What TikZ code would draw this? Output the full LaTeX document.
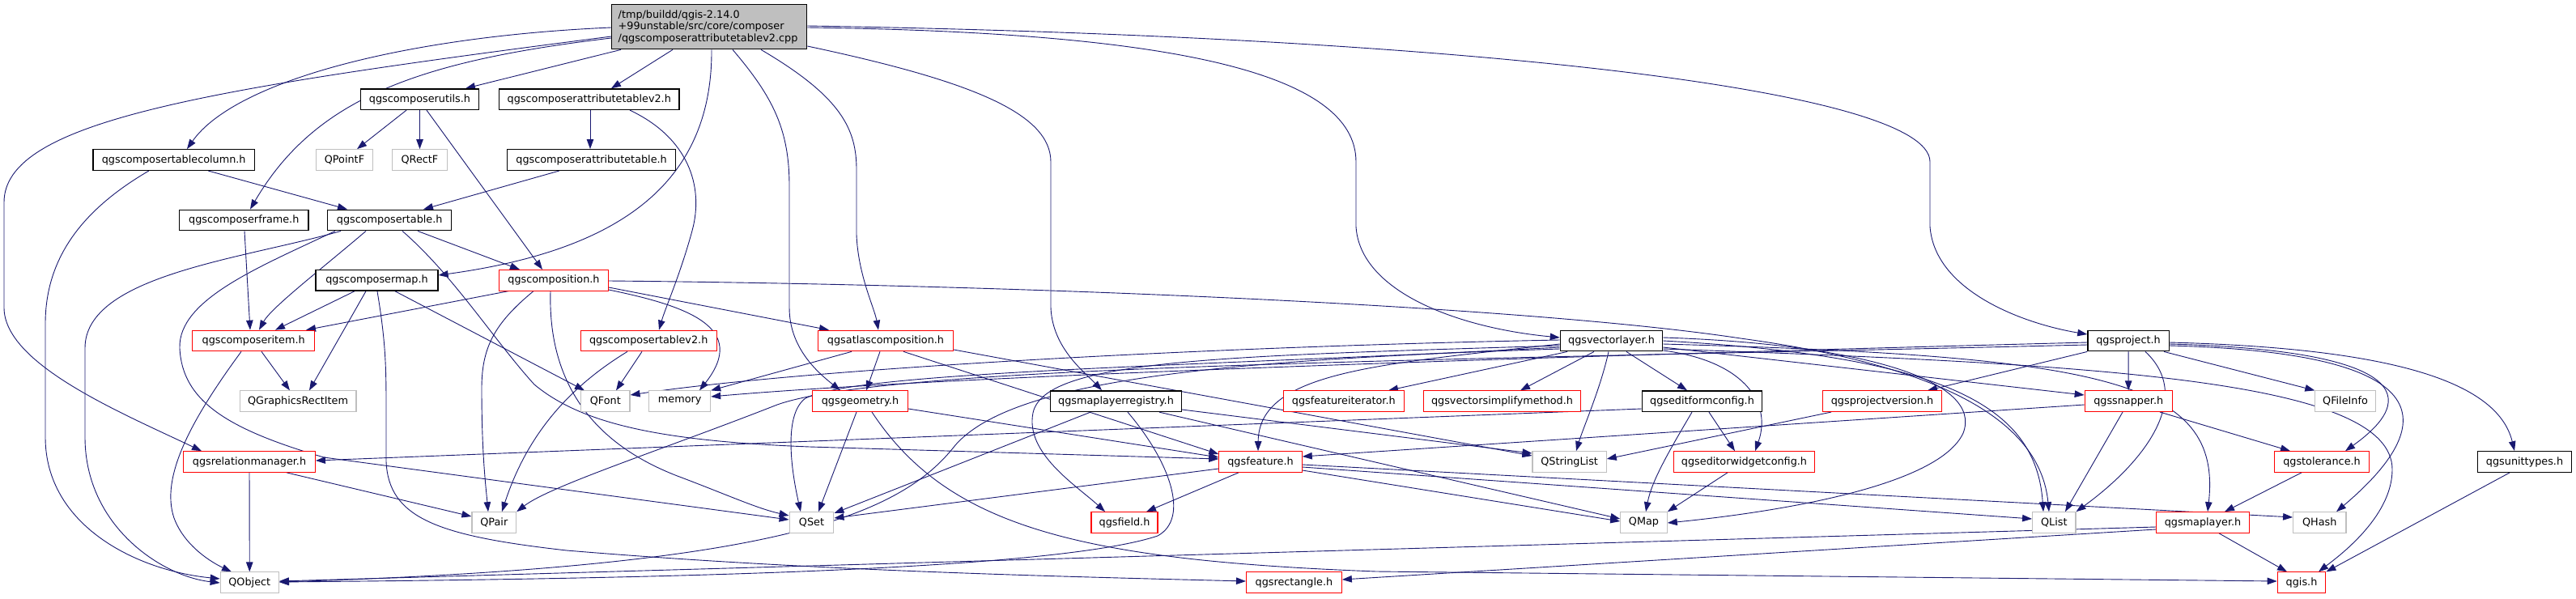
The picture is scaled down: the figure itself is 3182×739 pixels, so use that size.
\documentclass[tikz,border=0pt]{standalone}
\usepackage{fontspec}
\setmainfont{DejaVu Sans}
\usetikzlibrary{arrows.meta}
\definecolor{edgec}{RGB}{25,25,112}
\definecolor{grayb}{RGB}{191,191,191}
\definecolor{redb}{RGB}{255,0,0}
\pgfdeclarelayer{edgelayer}
\pgfsetlayers{edgelayer,main}
\begin{document}
\begin{tikzpicture}[x=1pt,y=-1pt,
 nb/.style={rectangle, inner sep=0pt, minimum height=25.6pt, font=\fontsize{12.8}{15}\selectfont, fill=white},
 doc/.style={nb, draw=black, line width=1.3pt},
 trn/.style={nb, draw=redb, line width=1.1pt},
 sys/.style={nb, draw=grayb, line width=1.1pt},
 rootst/.style={rectangle, draw=black, line width=1.3pt, fill=grayb, text width=225pt, align=left, inner xsep=8pt, inner ysep=0pt, minimum height=55pt, font=\fontsize{12.8}{14.6}\selectfont},
 dep/.style={draw=edgec, line width=0.9pt, -{Triangle[length=12pt,width=8.5pt]}}]
\useasboundingbox (0,0) rectangle (3182,739);

% nodes
\node[rootst] (root) at (876.2,33.2) {/tmp/buildd/qgis-2.14.0\\+99unstable/src/core/composer\\/qgscomposerattributetablev2.cpp};
\node[doc, minimum width=146pt] (cutils) at (518.5,122.7) {qgscomposerutils.h};
\node[doc, minimum width=222.4pt] (cattv2) at (727.8,122.7) {qgscomposerattributetablev2.h};
\node[doc, minimum width=199.3pt] (ctcol) at (214.7,197.5) {qgscomposertablecolumn.h};
\node[sys, minimum width=69.5pt] (qpointf) at (425.5,197.5) {QPointF};
\node[sys, minimum width=67.4pt] (qrectf) at (518.5,197.5) {QRectF};
\node[doc, minimum width=208.3pt] (cattt) at (730.6,197.5) {qgscomposerattributetable.h};
\node[doc, minimum width=159.2pt] (cframe) at (301.3,272) {qgscomposerframe.h};
\node[doc, minimum width=152.9pt] (ctable) at (481.2,272) {qgscomposertable.h};
\node[doc, minimum width=150.9pt] (cmap) at (465.5,346.3) {qgscomposermap.h};
\node[trn, minimum width=134.7pt] (comp) at (684,346.3) {qgscomposition.h};
\node[trn, minimum width=150.8pt] (citem) at (313.2,421) {qgscomposeritem.h};
\node[trn, minimum width=168.3pt] (ctv2) at (801.2,421) {qgscomposertablev2.h};
\node[trn, minimum width=167pt] (atlas) at (1094,421) {qgsatlascomposition.h};
\node[doc, minimum width=126.3pt] (vlayer) at (1990.5,421) {qgsvectorlayer.h};
\node[doc, minimum width=100.3pt] (project) at (2629,421) {qgsproject.h};
\node[sys, minimum width=143.9pt] (qgri) at (368,495.7) {QGraphicsRectItem};
\node[sys, minimum width=60.4pt] (qfont) at (747.8,495.7) {QFont};
\node[sys, minimum width=75.8pt] (memory) at (839.7,495.7) {memory};
\node[trn, minimum width=118pt] (geom) at (1062.5,495.7) {qgsgeometry.h};
\node[doc, minimum width=162pt] (mlreg) at (1378.5,495.7) {qgsmaplayerregistry.h};
\node[trn, minimum width=149.5pt] (fiter) at (1659.8,495.7) {qgsfeatureiterator.h};
\node[trn, minimum width=194.4pt] (vsimp) at (1855.5,495.7) {qgsvectorsimplifymethod.h};
\node[doc, minimum width=148.3pt] (eform) at (2102.5,495.7) {qgseditformconfig.h};
\node[trn, minimum width=146.6pt] (pver) at (2325,495.7) {qgsprojectversion.h};
\node[trn, minimum width=108pt] (snapper) at (2629.2,495.7) {qgssnapper.h};
\node[sys, minimum width=74.3pt] (qfileinfo) at (2897,495.7) {QFileInfo};
\node[trn, minimum width=162.7pt] (relman) at (308,570.5) {qgsrelationmanager.h};
\node[trn, minimum width=102.4pt] (feature) at (1557,570.5) {qgsfeature.h};
\node[sys, minimum width=91.2pt] (qstrlist) at (1938.6,570.5) {QStringList};
\node[trn, minimum width=173.5pt] (ewidget) at (2154.5,570.5) {qgseditorwidgetconfig.h};
\node[trn, minimum width=117.1pt] (tolerance) at (2868,570.5) {qgstolerance.h};
\node[doc, minimum width=115.8pt] (unittypes) at (3118.5,570.5) {qgsunittypes.h};
\node[sys, minimum width=54.7pt] (qpair) at (610.3,645.5) {QPair};
\node[sys, minimum width=54.8pt] (qset) at (1002.5,645.5) {QSet};
\node[trn, minimum width=82pt] (field) at (1389,645.5) {qgsfield.h};
\node[sys, minimum width=57.5pt] (qmap) at (2030.5,645.5) {QMap};
\node[sys, minimum width=53.4pt] (qlist) at (2537.3,645.5) {QList};
\node[trn, minimum width=115.1pt] (maplayer) at (2721,645.5) {qgsmaplayer.h};
\node[sys, minimum width=65.3pt] (qhash) at (2865.3,645.5) {QHash};
\node[sys, minimum width=72.2pt] (qobject) at (308.3,719.7) {QObject};
\node[trn, minimum width=117.8pt] (rect) at (1598.4,719.7) {qgsrectangle.h};
\node[trn, minimum width=59.6pt] (qgis) at (2843,719.7) {qgis.h};

\begin{pgfonlayer}{edgelayer}
% root
\draw[dep] (root.west |- 0,34) .. controls (500,45) and (290,100) .. (ctcol.north -| 231,0);
\draw[dep] (root.west |- 0,45) .. controls (250,110) and (5,150) .. (5,250) -- (5,380) .. controls (5,450) and (150,510) .. (relman.north -| 249,0);
\draw[dep] (root.west |- 0,47) .. controls (520,75) and (390,120) .. (cframe.north -| 309,0);
\draw[dep] (root.south -| 767,0) -- (cutils.north -| 575,0);
\draw[dep] (root.south -| 831,0) -- (cattv2.north -| 755,0);
\draw[dep] (root.south -| 879,0) .. controls (880,230) and (760,310) .. (cmap.east |- 0,340);
\draw[dep] (root.south -| 905,0) .. controls (955,120) and (975,160) .. (975,230) -- (975,380) .. controls (975,430) and (1010,460) .. (geom.north -| 1038,0);
\draw[dep] (root.south -| 940,0) .. controls (1040,120) and (1058,160) .. (1058,210) -- (1058,290) .. controls (1060,340) and (1080,380) .. (atlas.north -| 1085,0);
\draw[dep] (root.east |- 0,57) .. controls (1200,100) and (1298,140) .. (1298,200) -- (1298,380) .. controls (1300,430) and (1340,460) .. (mlreg.north -| 1361,0);
\draw[dep] (root.east |- 0,34) .. controls (1450,40) and (1675,90) .. (1675,200) -- (1675,280) .. controls (1680,360) and (1800,405) .. (vlayer.west |- 0,417);
\draw[dep] (root.east |- 0,32) .. controls (1800,45) and (2384,110) .. (2384,200) -- (2384,280) .. controls (2390,360) and (2500,400) .. (project.west |- 0,413);

% composer utils / tables
\draw[dep] (cutils.south -| 502,0) -- (qpointf.north -| 441,0);
\draw[dep] (cutils) -- (qrectf);
\draw[dep] (cutils.south -| 527,0) -- (comp.north -| 670,0);
\draw[dep] (cattv2.south -| 729,0) -- (cattt.north -| 729,0);
\draw[dep] (cattv2.south -| 778,0) .. controls (850,170) and (870,230) .. (855,285) .. controls (840,340) and (822,380) .. (ctv2.north -| 814,0);
\draw[dep] (ctcol.south -| 257,0) -- (ctable.north -| 429,0);
\draw[dep] (ctcol.south -| 184,0) .. controls (100,260) and (56,320) .. (56,400) -- (56,540) .. controls (56,650) and (170,705) .. (qobject.west |- 0,715);
\draw[dep] (cattt.south -| 691,0) -- (ctable.north -| 523,0);
\draw[dep] (cframe.south -| 302,0) -- (citem.north -| 309,0);

% composer table
\draw[dep] (ctable.south -| 421,0) .. controls (300,320) and (105,340) .. (105,430) -- (105,540) .. controls (105,650) and (200,712) .. (qobject.west |- 0,720);
\draw[dep] (ctable.south -| 414,0) .. controls (320,330) and (220,370) .. (222,430) .. controls (225,495) and (280,530) .. (400,565) -- (qset.west |- 0,642);
\draw[dep] (ctable.south -| 452,0) .. controls (400,330) and (335,380) .. (citem.north -| 320,0);
\draw[dep] (ctable.south -| 497,0) .. controls (560,340) and (610,420) .. (660,475) .. controls (720,525) and (820,545) .. (1000,552) -- (feature.west |- 0,567);
\draw[dep] (ctable.south -| 516,0) -- (comp.north -| 642,0);

% composer map
\draw[dep] (cmap.south -| 438,0) -- (citem.north -| 340,0);
\draw[dep] (cmap.south -| 452,0) -- (qgri.north -| 382,0);
\draw[dep] (cmap.south -| 466,0) .. controls (476,420) and (477,450) .. (477,500) -- (477,570) .. controls (480,640) and (540,662) .. (700,680) .. controls (1000,705) and (1300,712) .. (rect.west |- 0,718);
\draw[dep] (cmap.south -| 488,0) -- (qfont.north -| 722,0);

% composition
\draw[dep] (comp.east |- 0,347) .. controls (1300,352) and (1900,380) .. (2150,418) .. controls (2400,452) and (2520,520) .. (qlist.north -| 2531,0);
\draw[dep] (comp.east |- 0,355) -- (atlas.north -| 1024,0);
\draw[dep] (comp.east |- 0,358) .. controls (850,378) and (925,405) .. (memory.north -| 864,0);
\draw[dep] (comp.south -| 659,0) .. controls (610,400) and (595,430) .. (595,480) .. controls (595,560) and (600,600) .. (qpair.north -| 603,0);
\draw[dep] (comp.south -| 680,0) .. controls (677,460) and (720,545) .. (842,590) .. controls (900,612) and (935,628) .. (qset.west |- 0,637);
\draw[dep] (comp.south -| 628,0) -- (citem.north -| 378,0);

% composer item, tablev2
\draw[dep] (citem.south -| 298,0) .. controls (235,520) and (198,590) .. (215,640) .. controls (228,675) and (262,695) .. (qobject.north -| 286,0);
\draw[dep] (citem.south -| 323,0) -- (qgri.north -| 358,0);
\draw[dep] (ctv2.south -| 775,0) .. controls (700,480) and (650,540) .. (qpair.north -| 620,0);
\draw[dep] (ctv2.south -| 793,0) -- (qfont.north -| 761,0);

% atlas
\draw[dep] (atlas.south -| 1052,0) -- (memory.north east);
\draw[dep] (atlas.south -| 1087,0) -- (geom.north -| 1070,0);
\draw[dep] (atlas.south -| 1116,0) -- (feature.west |- 0,561);
\draw[dep] (atlas.east |- 0,432) -- (qstrlist.west |- 0,563);

% geometry
\draw[dep] (geom.south -| 1058,0) -- (qset.north -| 1011,0);
\draw[dep] (geom.south -| 1077,0) .. controls (1170,650) and (1330,692) .. (1700,706) -- (qgis.west |- 0,718);
\draw[dep] (geom.east |- 0,505) -- (feature.west |- 0,565);

% map layer registry
\draw[dep] (mlreg.south -| 1347,0) -- (qset.east |- 0,634);
\draw[dep] (mlreg.south -| 1393,0) .. controls (1445,570) and (1470,640) .. (1430,662) .. controls (1300,705) and (800,715) .. (qobject.east |- 0,719);
\draw[dep] (mlreg.south -| 1432,0) -- (qmap.west |- 0,641);
\draw[dep] (mlreg.east |- 0,506) -- (qstrlist.west |- 0,560);

% relation manager
\draw[dep] (relman.south -| 354,0) -- (qpair.west |- 0,638);
\draw[dep] (relman) -- (qobject);

% vector layer
\draw[dep] (vlayer.south -| 1936,0) -- (fiter.north -| 1715,0);
\draw[dep] (vlayer.south -| 1969,0) -- (vsimp.north -| 1878,0);
\draw[dep] (vlayer.south -| 1987,0) .. controls (1977,480) and (1955,530) .. (qstrlist.north -| 1947,0);
\draw[dep] (vlayer.south -| 2009,0) -- (eform.north -| 2084,0);
\draw[dep] (vlayer.west |- 0,425) .. controls (1700,450) and (1555,460) .. (feature.north -| 1554,0);
\draw[dep] (vlayer.west |- 0,420) .. controls (1500,428) and (1000,455) .. (qfont.east |- 0,488);
\draw[dep] (vlayer.west |- 0,429) .. controls (1500,452) and (1060,458) .. (995,492) .. controls (970,510) and (975,570) .. (qset.north -| 989,0);
\draw[dep] (vlayer.west |- 0,431) .. controls (1500,445) and (1250,470) .. (1180,550) .. controls (1110,640) and (950,700) .. (qobject.east |- 0,719);
\draw[dep] (vlayer.west |- 0,427) .. controls (1500,440) and (1290,445) .. (1276,510) .. controls (1266,560) and (1330,600) .. (field.north -| 1365,0);
\draw[dep] (vlayer.east |- 0,417) .. controls (2300,425) and (2450,470) .. (2425,535) .. controls (2395,600) and (2200,632) .. (qmap.east |- 0,646);
\draw[dep] (vlayer.east |- 0,421) .. controls (2400,440) and (2515,500) .. (qlist.north -| 2524,0);
\draw[dep] (vlayer.east |- 0,429) -- (snapper.west |- 0,488);
\draw[dep] (vlayer.east |- 0,425) .. controls (2600,440) and (2745,470) .. (maplayer.north -| 2727,0);
\draw[dep] (vlayer.east |- 0,431) .. controls (2600,450) and (2955,470) .. (2955,580) .. controls (2955,640) and (2885,690) .. (qgis.north -| 2864,0);
\draw[dep] (vlayer.east |- 0,433) .. controls (2150,445) and (2190,495) .. (ewidget.north -| 2168,0);

% project
\draw[dep] (project.south west) -- (pver.north -| 2381,0);
\draw[dep] (project) -- (snapper);
\draw[dep] (project.south -| 2650,0) .. controls (2710,490) and (2650,570) .. (qlist.north east);
\draw[dep] (project.south -| 2673,0) -- (qfileinfo.north west);
\draw[dep] (project.east |- 0,425) .. controls (2940,432) and (3005,480) .. (tolerance.north -| 2897,0);
\draw[dep] (project.east |- 0,427) .. controls (2990,435) and (3030,510) .. (qhash.north -| 2886,0);
\draw[dep] (project.east |- 0,423) .. controls (2950,430) and (3085,470) .. (unittypes.north -| 3106,0);
\draw[dep] (project.west |- 0,423) .. controls (2000,438) and (1200,462) .. (memory.east |- 0,490);
\draw[dep] (project.west |- 0,426) .. controls (1800,445) and (1100,450) .. (960,500) .. controls (820,555) and (680,600) .. (qpair.north east);

% edit form config, project version, snapper
\draw[dep] (eform.west |- 0,505) -- (relman.east |- 0,569);
\draw[dep] (eform.south -| 2111,0) -- (ewidget.north -| 2143,0);
\draw[dep] (eform.south -| 2090,0) .. controls (2060,560) and (2040,595) .. (qmap.north -| 2033,0);
\draw[dep] (pver.south -| 2262,0) -- (qstrlist.east |- 0,567);
\draw[dep] (snapper.west |- 0,500) -- (feature.east |- 0,564);
\draw[dep] (snapper.south -| 2622,0) -- (qlist.north -| 2551,0);
\draw[dep] (snapper.south -| 2668,0) -- (tolerance.north -| 2829,0);

% feature
\draw[dep] (feature.west |- 0,579) -- (qset.east |- 0,640);
\draw[dep] (feature.south -| 1530,0) -- (field.north -| 1416,0);
\draw[dep] (feature.east |- 0,581) -- (qmap.west |- 0,644);
\draw[dep] (feature.east |- 0,577) -- (qlist.west |- 0,641);
\draw[dep] (feature.east |- 0,574) -- (qhash.west |- 0,639);

% others
\draw[dep] (ewidget.south -| 2134,0) -- (qmap.north east);
\draw[dep] (tolerance.south -| 2843,0) -- (maplayer.north -| 2748,0);
\draw[dep] (maplayer.west |- 0,651) -- (qobject.east |- 0,718);
\draw[dep] (maplayer.west |- 0,654) -- (rect.east |- 0,716);
\draw[dep] (maplayer.south -| 2741,0) -- (qgis.north -| 2825,0);
\draw[dep] (unittypes.south -| 3100,0) -- (qgis.north east);
\end{pgfonlayer}
\end{tikzpicture}
\end{document}
